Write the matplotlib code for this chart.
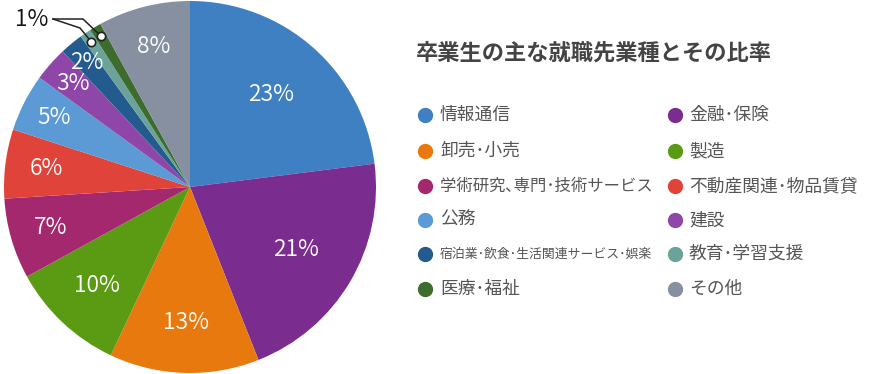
import matplotlib
matplotlib.use("Agg")
import matplotlib.pyplot as plt
from matplotlib.lines import Line2D
import numpy as np

plt.rcParams['font.family'] = ['Noto Sans CJK JP', 'DejaVu Sans']

categories = ["情報通信", "金融･保険", "卸売･小売", "製造", "学術研究､専門･技術サービス",
              "不動産関連･物品賃貸", "公務", "建設", "宿泊業･飲食･生活関連サービス･娯楽",
              "教育･学習支援", "医療･福祉", "その他"]
values = [23, 21, 13, 10, 7, 6, 5, 3, 2, 1, 1, 8]
colors = ["#3f80c2", "#7b2c8f", "#e8790f", "#5b9b14", "#a4286d", "#e0433a",
          "#5b9ad5", "#8e47a9", "#245b8e", "#6ba39b", "#3e6c2e", "#8690a1"]
title = "卒業生の主な就職先業種とその比率"

W, H = 870, 374
fig = plt.figure(figsize=(W / 100, H / 100), dpi=100)

cx, cy, r = 190, 187, 186
ax = fig.add_axes([(cx - r) / W, (H - cy - r) / H, 2 * r / W, 2 * r / H])
wedges, _ = ax.pie(values, colors=colors, startangle=90, counterclock=False,
                   radius=1, wedgeprops=dict(linewidth=0))
ax.set_xlim(-1, 1)
ax.set_ylim(-1, 1)
ax.set_aspect('equal')
ax.axis('off')


def label_radius(v):
    if v >= 20:
        return 0.66
    if v >= 10:
        return 0.73
    if v >= 6:
        return 0.78
    if v >= 5:
        return 0.82
    if v >= 3:
        return 0.84
    return 0.87


small = []
for w, v in zip(wedges, values):
    ang = np.deg2rad((w.theta1 + w.theta2) / 2)
    if v >= 2:
        rr = label_radius(v)
        ax.text(rr * np.cos(ang), rr * np.sin(ang), f"{v}%", color="white",
                fontsize=16.5, fontweight=350, ha="center", va="center")
    else:
        small.append(ang)


def px2d(x, y):
    return ((x - cx) / r, (cy - y) / r)


# leader lines for 1% slices
start = px2d(53, 19)
elbows = [px2d(80, 28), px2d(83, 19)]
for ang, elb in zip(small, elbows):
    end = (0.945 * np.cos(ang), 0.945 * np.sin(ang))
    ax.plot([start[0], elb[0], end[0]], [start[1], elb[1], end[1]],
            color="#222222", lw=1.1, clip_on=False, zorder=5)
    ax.plot(end[0], end[1], 'o', ms=6, mfc="white", mec="#222222", mew=1.2,
            clip_on=False, zorder=6)
tx, ty = px2d(32, 19)
ax.text(tx, ty, "1%", fontsize=16.5, fontweight=350, color="#111111",
        ha="center", va="center")

# title
fig.text(416 / W, 1 - 53 / H, title, fontsize=16, fontweight="bold",
         color="#444444", ha="left", va="center")

# legend
rows_y = [115, 151, 186, 220, 254, 289]
col_mx = [425, 675]
col_tx = [440, 689]
max_w = 212
renderer = fig.canvas.get_renderer()
for i, (cat, col) in enumerate(zip(categories, colors)):
    rw, c = divmod(i, 2)
    y = 1 - rows_y[rw] / H
    fig.add_artist(Line2D([col_mx[c] / W], [y], marker='o', ms=10,
                          color=col, mec=col, transform=fig.transFigure))
    t = fig.text(col_tx[c] / W, y, cat, fontsize=12.8, color="#555555",
                 ha="left", va="center")
    wpx = t.get_window_extent(renderer).width
    if wpx > max_w:
        t.set_fontsize(12.8 * max_w / wpx)

fig.savefig("out.png", dpi=100, facecolor="white")
